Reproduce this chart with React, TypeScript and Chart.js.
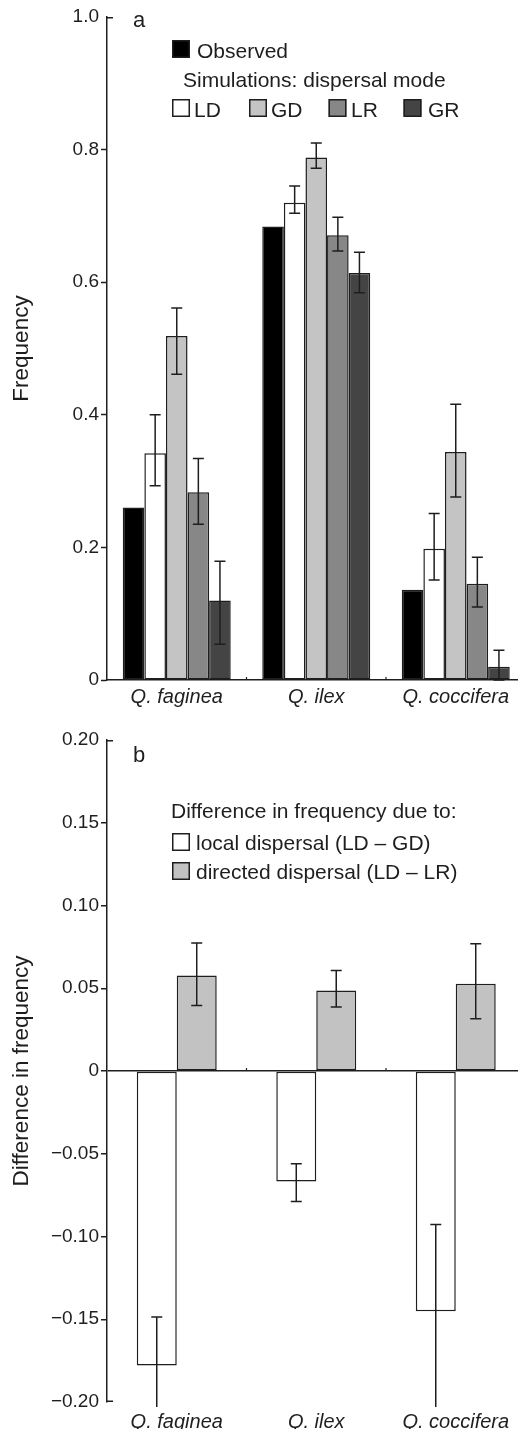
import React, { useEffect, useRef } from 'react';
import { Chart, registerables } from 'chart.js';
Chart.register(...registerables);

// ---------- data ----------
const species = ['Q. faginea', 'Q. ilex', 'Q. coccifera'];
const seriesNames = ['Observed', 'LD', 'GD', 'LR', 'GR'];

const observed = [0.26, 0.684, 0.136];
const ld = [0.342, 0.72, 0.198];
const ldHi = [0.4, 0.745, 0.251];
const ldLo = [0.293, 0.704, 0.151];
const gd = [0.519, 0.788, 0.344];
const gdHi = [0.561, 0.81, 0.416];
const gdLo = [0.461, 0.772, 0.276];
const lr = [0.283, 0.671, 0.145];
const lrHi = [0.334, 0.698, 0.185];
const lrLo = [0.235, 0.647, 0.11];
const gr = [0.12, 0.614, 0.02];
const grHi = [0.179, 0.645, 0.045];
const grLo = [0.054, 0.584, 0.0];

const freqTicks = [0, 0.2, 0.4, 0.6, 0.8, 1.0];
const freqTickLabels = ['0', '0.2', '0.4', '0.6', '0.8', '1.0'];

const diffNames = ['local dispersal (LD \u2013 GD)', 'directed dispersal (LD \u2013 LR)'];
const localDiff = [-0.178, -0.0667, -0.1452];
const localHi = [-0.1486, -0.056, -0.0928];
const localLo = [-0.207, -0.0788, -0.205];
const directedDiff = [0.0577, 0.0487, 0.0527];
const directedHi = [0.0773, 0.0607, 0.0769];
const directedLo = [0.0396, 0.0386, 0.0316];

const diffTicks = [-0.2, -0.15, -0.1, -0.05, 0, 0.05, 0.1, 0.15, 0.2];
const diffTickLabels = ['\u22120.20', '\u22120.15', '\u22120.10', '\u22120.05', '0', '0.05', '0.10', '0.15', '0.20'];

// ---------- styles ----------
const FONT = '"Liberation Sans", Arial, Helvetica, sans-serif';
const INK = '#1e1e1e';
const seriesColors = ['#000000', '#ffffff', '#c4c4c4', '#878787', '#444444'];
const diffColors = ['#ffffff', '#c2c2c2'];

const errorBarPlugin = {
  id: 'errorBars',
  afterDatasetsDraw(chart: any) {
    const { ctx, chartArea } = chart;
    const ys = chart.scales.y;
    ctx.save();
    ctx.beginPath();
    ctx.rect(chartArea.left, chartArea.top - 6, chartArea.right - chartArea.left, chartArea.bottom - chartArea.top + 11);
    ctx.clip();
    ctx.strokeStyle = INK;
    ctx.lineWidth = 1.5;
    chart.data.datasets.forEach((ds: any, di: number) => {
      if (!ds.errHi) return;
      const meta = chart.getDatasetMeta(di);
      meta.data.forEach((bar: any, i: number) => {
        const x = bar.x;
        const y1 = ys.getPixelForValue(ds.errHi[i]);
        const y2 = ys.getPixelForValue(ds.errLo[i]);
        const w = 5.5;
        ctx.beginPath();
        ctx.moveTo(x, y1);
        ctx.lineTo(x, y2);
        ctx.moveTo(x - w, y1);
        ctx.lineTo(x + w, y1);
        ctx.moveTo(x - w, y2);
        ctx.lineTo(x + w, y2);
        ctx.stroke();
      });
    });
    ctx.restore();
  },
};

function drawSquare(ctx: CanvasRenderingContext2D, x: number, y: number, color: string) {
  ctx.fillStyle = color;
  ctx.fillRect(x, y, 18, 18);
  ctx.strokeStyle = INK;
  ctx.lineWidth = 1.5;
  ctx.strokeRect(x + 0.75, y + 0.75, 16.5, 16.5);
}

function drawAxisExtras(chart: any, topInward: boolean, bottomInward: boolean, zeroY: number) {
  const { ctx, chartArea } = chart;
  const xs = chart.scales.x;
  ctx.save();
  ctx.strokeStyle = INK;
  ctx.lineWidth = 1.5;
  ctx.beginPath();
  if (topInward) {
    ctx.moveTo(chartArea.left, chartArea.top + 0.75);
    ctx.lineTo(chartArea.left + 6, chartArea.top + 0.75);
  }
  if (bottomInward) {
    ctx.moveTo(chartArea.left, chartArea.bottom - 0.75);
    ctx.lineTo(chartArea.left + 6, chartArea.bottom - 0.75);
  }
  ctx.stroke();
  // small marks between categories
  ctx.lineWidth = 1.2;
  ctx.beginPath();
  for (let i = 1; i < species.length; i++) {
    const bx = xs.getPixelForValue(i - 0.5);
    ctx.moveTo(bx, zeroY);
    ctx.lineTo(bx, zeroY - 3);
  }
  ctx.stroke();
  ctx.restore();
}

const topLegendPlugin = {
  id: 'topLegend',
  afterDraw(chart: any) {
    const { ctx } = chart;
    drawAxisExtras(chart, true, false, chart.chartArea.bottom);
    ctx.save();
    ctx.fillStyle = INK;
    ctx.textBaseline = 'alphabetic';
    ctx.font = `22px ${FONT}`;
    ctx.fillText('a', 133, 27);
    ctx.font = `21px ${FONT}`;
    drawSquare(ctx, 172, 40, seriesColors[0]);
    ctx.fillStyle = INK;
    ctx.fillText(seriesNames[0], 197, 58);
    ctx.fillText('Simulations: dispersal mode', 183, 87);
    const sq = [172, 249, 328.5, 403.5];
    const tx = [194, 271, 351, 428];
    for (let i = 1; i < seriesNames.length; i++) {
      drawSquare(ctx, sq[i - 1], 99, seriesColors[i]);
      ctx.fillStyle = INK;
      ctx.fillText(seriesNames[i], tx[i - 1], 117);
    }
    ctx.restore();
  },
};

const bottomLegendPlugin = {
  id: 'bottomLegend',
  afterDraw(chart: any) {
    const { ctx } = chart;
    drawAxisExtras(chart, true, true, chart.scales.y.getPixelForValue(0));
    ctx.save();
    ctx.fillStyle = INK;
    ctx.textBaseline = 'alphabetic';
    ctx.font = `22px ${FONT}`;
    ctx.fillText('b', 133, 47);
    ctx.font = `21px ${FONT}`;
    ctx.fillText('Difference in frequency due to:', 171, 103);
    drawSquare(ctx, 172, 118, diffColors[0]);
    ctx.fillStyle = INK;
    ctx.fillText(diffNames[0], 196, 135);
    drawSquare(ctx, 172, 147, diffColors[1]);
    ctx.fillStyle = INK;
    ctx.fillText(diffNames[1], 196, 164);
    ctx.restore();
  },
};

export default function App() {
  const topRef = useRef<HTMLCanvasElement>(null);
  const botRef = useRef<HTMLCanvasElement>(null);

  useEffect(() => {
    const barDefaults = {
      borderWidth: 1.5,
      borderColor: INK,
      borderSkipped: false,
      barPercentage: 1,
    };
    const top = new Chart(topRef.current as HTMLCanvasElement, {
      type: 'bar',
      data: {
        labels: species,
        datasets: [
          { label: seriesNames[0], data: observed, backgroundColor: seriesColors[0] },
          { label: seriesNames[1], data: ld, errHi: ldHi, errLo: ldLo, backgroundColor: seriesColors[1] },
          { label: seriesNames[2], data: gd, errHi: gdHi, errLo: gdLo, backgroundColor: seriesColors[2] },
          { label: seriesNames[3], data: lr, errHi: lrHi, errLo: lrLo, backgroundColor: seriesColors[3] },
          { label: seriesNames[4], data: gr, errHi: grHi, errLo: grLo, backgroundColor: seriesColors[4] },
        ].map((d) => ({ ...barDefaults, categoryPercentage: 0.774, ...d })) as any,
      },
      options: {
        responsive: false,
        animation: false,
        layout: { padding: { top: 17, right: 4.5, left: 0, bottom: 0 } },
        plugins: { legend: { display: false }, tooltip: { enabled: false } },
        scales: {
          x: {
            grid: { display: false },
            border: { display: true, color: INK, width: 1.5 },
            ticks: { color: INK, padding: -3, font: { family: FONT, size: 20, style: 'italic' } },
            afterFit: (s: any) => { s.height = 35; },
          },
          y: {
            min: 0,
            max: 1,
            afterBuildTicks: (s: any) => { s.ticks = freqTicks.map((v) => ({ value: v })); },
            ticks: {
              color: INK,
              padding: 2,
              font: { family: FONT, size: 19 },
              callback: (_v: any, i: number) => freqTickLabels[i],
            },
            grid: {
              drawOnChartArea: false,
              tickLength: 6,
              tickWidth: 1.5,
              tickColor: (c: any) => (c.tick && c.tick.value === 1 ? 'rgba(0,0,0,0)' : INK),
            },
            border: { display: true, color: INK, width: 1.5 },
            title: {
              display: true,
              text: 'Frequency',
              color: INK,
              font: { family: FONT, size: 22.5 },
              padding: { top: 8, bottom: 0 },
            },
            afterFit: (s: any) => { s.width = 107; },
          },
        },
      } as any,
      plugins: [errorBarPlugin, topLegendPlugin],
    });

    const bottom = new Chart(botRef.current as HTMLCanvasElement, {
      type: 'bar',
      data: {
        labels: species,
        datasets: [
          { label: diffNames[0], data: localDiff, errHi: localHi, errLo: localLo, backgroundColor: diffColors[0] },
          { label: diffNames[1], data: directedDiff, errHi: directedHi, errLo: directedLo, backgroundColor: diffColors[1] },
        ].map((d) => ({ ...barDefaults, categoryPercentage: 0.573, ...d })) as any,
      },
      options: {
        responsive: false,
        animation: false,
        layout: { padding: { top: 25, right: 4.5, left: 0, bottom: 0 } },
        plugins: { legend: { display: false }, tooltip: { enabled: false } },
        scales: {
          x: {
            grid: { display: false },
            border: { display: false },
            ticks: { color: INK, padding: 0, font: { family: FONT, size: 20, style: 'italic' } },
            afterFit: (s: any) => { s.height = 27; },
          },
          y: {
            min: -0.2,
            max: 0.2,
            afterBuildTicks: (s: any) => { s.ticks = diffTicks.map((v) => ({ value: v })); },
            ticks: {
              color: INK,
              padding: 2,
              font: { family: FONT, size: 19 },
              callback: (_v: any, i: number) => diffTickLabels[i],
            },
            grid: {
              drawOnChartArea: true,
              tickLength: 6,
              lineWidth: 1.5,
              tickWidth: 1.5,
              color: (c: any) => (c.tick && Math.abs(c.tick.value) < 1e-9 ? INK : 'rgba(0,0,0,0)'),
              tickColor: (c: any) => (c.tick && Math.abs(c.tick.value) > 0.19 ? 'rgba(0,0,0,0)' : INK),
            },
            border: { display: true, color: INK, width: 1.5 },
            title: {
              display: true,
              text: 'Difference in frequency',
              color: INK,
              font: { family: FONT, size: 22.5 },
              padding: { top: 8, bottom: 0 },
            },
            afterFit: (s: any) => { s.width = 107; },
          },
        },
      } as any,
      plugins: [errorBarPlugin, bottomLegendPlugin],
    });

    return () => {
      top.destroy();
      bottom.destroy();
    };
  }, []);

  return (
    <div
      style={{
        position: 'absolute',
        left: 0,
        top: 0,
        width: 518,
        height: 1429,
        overflow: 'hidden',
        background: '#fff',
      }}
    >
      <canvas ref={topRef} width={530} height={715} style={{ position: 'absolute', left: 0, top: 0 }} />
      <canvas ref={botRef} width={530} height={714} style={{ position: 'absolute', left: 0, top: 715 }} />
    </div>
  );
}
